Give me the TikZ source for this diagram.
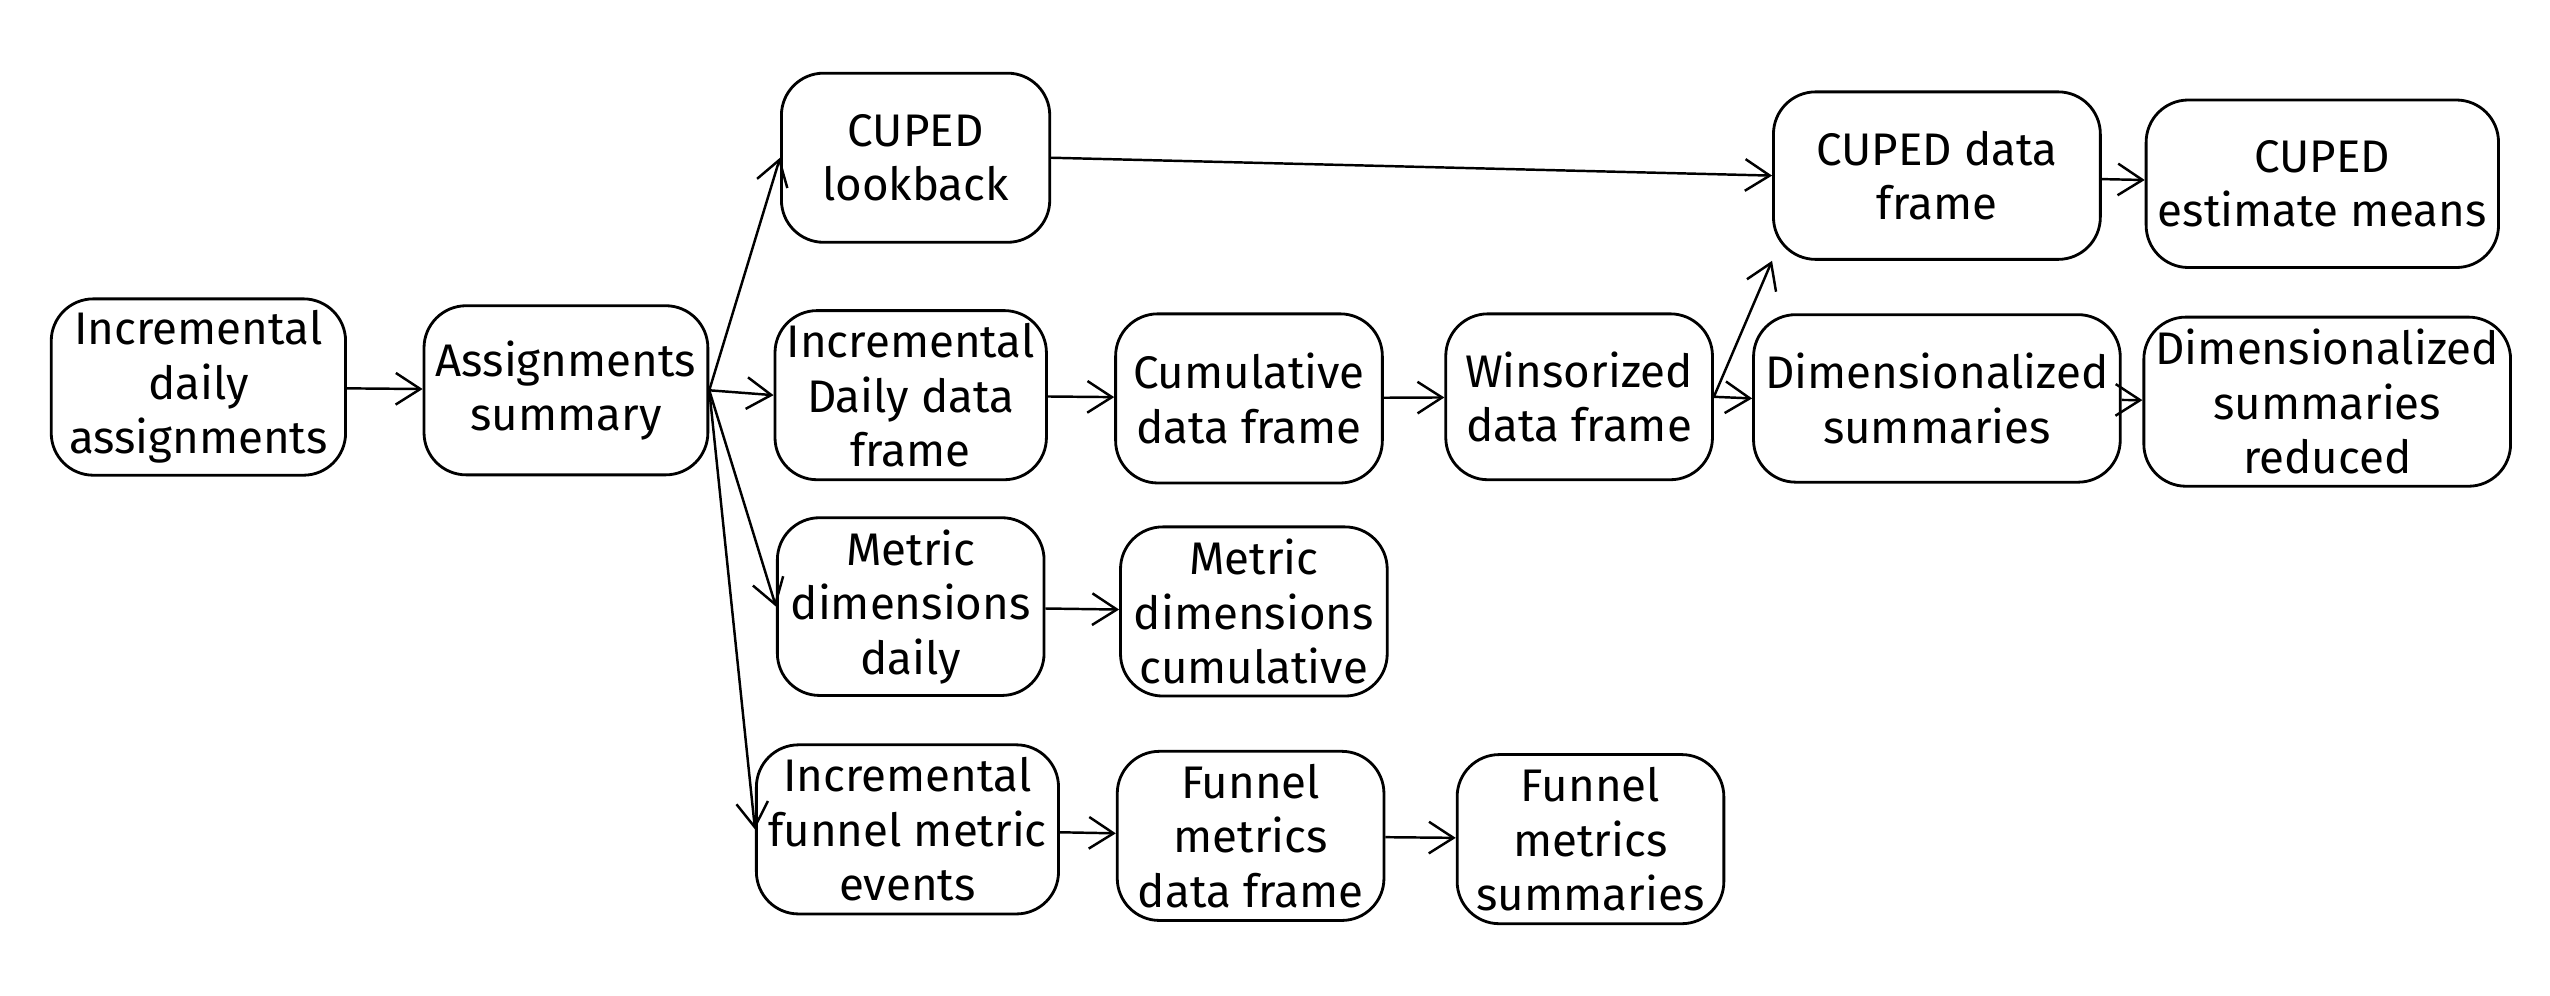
\documentclass[tikz,border=0pt]{standalone}
\usepackage{fontspec}
\setmainfont{Fira Sans}
\usetikzlibrary{arrows.meta}
\tikzset{box/.style={draw,rounded corners=12pt,align=center,font=\fontsize{13}{15.5}\selectfont,line width=0.8pt},
arr/.style={->,>={Straight Barb[length=7pt,width=9pt]},line width=0.7pt}}
\begin{document}
\begin{tikzpicture}[x=0.01626cm,y=-0.01626cm]
\useasboundingbox (0,0) rectangle (1568,612);
\node [box,name=ida,minimum width=181*0.01626cm,minimum height=105*0.01626cm] at (122,238){Incremental\\daily\\assignments};
\node [box,name=as,minimum width=164*0.01626cm,minimum height=104*0.01626cm] at (348,240){Assignments\\summary};
\node [box,name=cl,minimum width=165*0.01626cm,minimum height=104*0.01626cm] at (563,97){CUPED\\lookback};
\node [box,name=idd,minimum width=165*0.01626cm,minimum height=104*0.01626cm] at (560,243){Incremental\\Daily data\\frame};
\node [box,name=mdd,minimum width=164*0.01626cm,minimum height=104*0.01626cm] at (560,373){Metric\\dimensions\\daily};
\node [box,name=ife,minimum width=165*0.01626cm,minimum height=104*0.01626cm] at (558,510){Incremental\\funnel metric\\events};
\node [box,name=cdf,minimum width=164*0.01626cm,minimum height=104*0.01626cm] at (768,245){Cumulative\\data frame};
\node [box,name=mdc,minimum width=164*0.01626cm,minimum height=104*0.01626cm] at (771,376){Metric\\dimensions\\cumulative};
\node [box,name=fdf,minimum width=164*0.01626cm,minimum height=104*0.01626cm] at (769,514){Funnel\\metrics\\data frame};
\node [box,name=fms,minimum width=164*0.01626cm,minimum height=104*0.01626cm] at (978,516){Funnel\\metrics\\summaries};
\node [box,name=wdf,minimum width=164*0.01626cm,minimum height=102*0.01626cm] at (971,244){Winsorized\\data frame};
\node [box,name=cdfr,minimum width=201*0.01626cm,minimum height=103*0.01626cm] at (1191,108){CUPED data\\frame};
\node [box,name=dsum,minimum width=201*0.01626cm,minimum height=103*0.01626cm] at (1191,245){Dimensionalized\\summaries};
\node [box,name=cem,minimum width=201*0.01626cm,minimum height=103*0.01626cm] at (1428,113){CUPED\\estimate means};
\node [box,name=dsr,minimum width=202*0.01626cm,minimum height=104*0.01626cm] at (1431,247){Dimensionalized\\summaries\\reduced};
\draw[arr] (ida)--(as);
\draw[arr] (as.east)--(cl.west);
\draw[arr] (as.east)--(idd.west);
\draw[arr] (as.east)--(mdd.west);
\draw[arr] (as.east)--(ife.west);
\draw[arr] (idd)--(cdf);
\draw[arr] (mdd)--(mdc);
\draw[arr] (ife)--(fdf);
\draw[arr] (fdf)--(fms);
\draw[arr] (cdf)--(wdf);
\draw[arr] (cl.east)--(cdfr.west);
\draw[arr] (wdf.east)--(cdfr.south west);
\draw[arr] (wdf.east)--(dsum.west);
\draw[arr] (cdfr)--(cem);
\draw[arr] (dsum)--(dsr);
\end{tikzpicture}
\end{document}
